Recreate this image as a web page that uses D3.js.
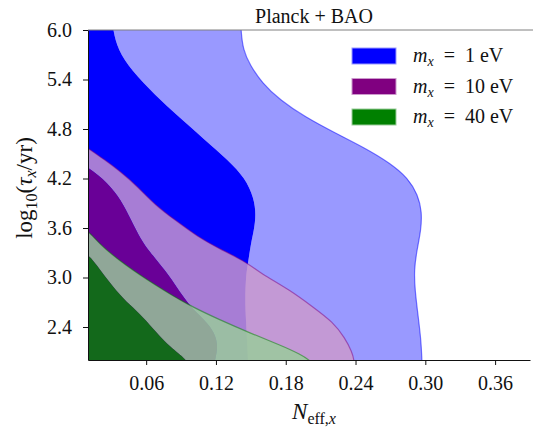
<!DOCTYPE html>
<html>
<head>
<meta charset="utf-8">
<script src="https://cdn.jsdelivr.net/npm/d3@7"></script>
<style>
  body { margin: 0; background: #fff; }
  text { font-family: "Liberation Serif", "Times New Roman", serif; fill: #111; }
</style>
</head>
<body>
<div id="chart"></div>
<script>
// tick values
const xTicks = [0.06, 0.12, 0.18, 0.24, 0.30, 0.36];
const yTicks = [2.4, 3.0, 3.6, 4.2, 4.8, 5.4, 6.0];

// legend masses (eV)
const masses = [1, 10, 40];

// contour edges, [N_eff,x , log10(tau/yr)]
// region is everything to the lower-left of the edge
const blue95 = [[0.1415, 6.10], [0.1415, 6.00], [0.1433, 5.758], [0.1493, 5.576], [0.1596, 5.358],
  [0.1751, 5.152], [0.1966, 4.945], [0.2223, 4.752], [0.2481, 4.570], [0.2696, 4.388],
  [0.2851, 4.206], [0.2937, 4.000], [0.2971, 3.794], [0.2963, 3.576], [0.2928, 3.333],
  [0.2903, 3.091], [0.2911, 2.848], [0.2937, 2.545], [0.2963, 2.242], [0.2971, 2.000],
  [0.2971, 1.94]];
const blue68 = [[0.0315, 6.10], [0.0315, 6.00], [0.0358, 5.758], [0.0470, 5.515], [0.0676, 5.212],
  [0.0891, 4.933], [0.1106, 4.667], [0.1304, 4.424], [0.1450, 4.206], [0.1527, 3.964],
  [0.1544, 3.758], [0.1527, 3.576], [0.1501, 3.418], [0.1476, 3.176], [0.1458, 3.030],
  [0.1450, 2.727], [0.1458, 2.485], [0.1467, 2.242], [0.1476, 2.000], [0.1476, 1.94]];
const purple95 = [[0.0, 4.65], [0.0100, 4.570], [0.0246, 4.424], [0.0384, 4.279], [0.0530, 4.097],
  [0.0676, 3.879], [0.0848, 3.697], [0.1046, 3.491], [0.1218, 3.358], [0.1476, 3.176],
  [0.1579, 3.055], [0.1837, 2.848], [0.2034, 2.642], [0.2206, 2.461], [0.2309, 2.267],
  [0.2370, 2.097], [0.2387, 2.000], [0.2387, 1.94]];
const purple68 = [[0.0, 4.40], [0.0100, 4.339], [0.0272, 4.145], [0.0384, 3.939], [0.0470, 3.697],
  [0.0556, 3.455], [0.0633, 3.309], [0.0702, 3.188], [0.0814, 2.994], [0.0960, 2.667],
  [0.1106, 2.485], [0.1192, 2.327], [0.1218, 2.158], [0.1192, 2.000], [0.1184, 1.94]];
const green95 = [[0.0, 3.62], [0.0100, 3.576], [0.0203, 3.394], [0.0418, 3.152], [0.0676, 2.909],
  [0.0960, 2.667], [0.1235, 2.485], [0.1493, 2.327], [0.1751, 2.182], [0.1923, 2.073],
  [0.2026, 1.976], [0.2030, 1.94]];
const green68 = [[0.0, 3.32], [0.0100, 3.297], [0.0203, 3.091], [0.0349, 2.824], [0.0461, 2.667],
  [0.0573, 2.521], [0.0693, 2.327], [0.0805, 2.158], [0.0951, 2.000], [0.0960, 1.94]];

const width = 534, height = 428;
const m = { left: 88, right: 530, top: 30, bottom: 360 };

const x = d3.scaleLinear().domain([0.01, 0.39]).range([m.left, m.right]);
const y = d3.scaleLinear().domain([2.0, 6.0]).range([m.bottom, m.top]);

const svg = d3.select('#chart').append('svg')
  .attr('width', width)
  .attr('height', height);

svg.append('clipPath').attr('id', 'plot')
  .append('rect')
  .attr('x', m.left).attr('y', m.top)
  .attr('width', m.right - m.left).attr('height', m.bottom - m.top);

const edge = d3.line()
  .x(d => x(d[0]))
  .y(d => y(d[1]))
  .curve(d3.curveBasis);

// close the edge round the lower-left corner
function region(pts) {
  return edge(pts) + `L${x(0)},${y(1.9)}L${x(0)},${y(6.1)}Z`;
}

const series = [
  { mass: masses[0], outer: blue95, inner: blue68, color: '#0000ff', light: '#9999ff', alpha: 1 },
  { mass: masses[1], outer: purple95, inner: purple68, color: '#800080', light: '#cc99cc', alpha: 0.82 },
  { mass: masses[2], outer: green95, inner: green68, color: '#008000', light: '#99cc99', alpha: 0.82 }
];

const g = svg.append('g').attr('clip-path', 'url(#plot)');

series.forEach(s => {
  // 95% band only (1σ region cut out)
  g.append('path')
    .attr('d', region(s.outer) + region(s.inner))
    .attr('fill-rule', 'evenodd')
    .attr('fill', s.light)
    .attr('fill-opacity', s.alpha);
  g.append('path')
    .attr('d', region(s.inner))
    .attr('fill', s.color)
    .attr('fill-opacity', s.alpha);
  g.append('path')
    .attr('d', edge(s.outer))
    .attr('fill', 'none')
    .attr('stroke', s.color)
    .attr('stroke-opacity', 0.5)
    .attr('stroke-width', 1.2);
});

// axes
const xAxis = svg.append('g')
  .attr('transform', `translate(0,${m.bottom})`)
  .call(d3.axisBottom(x).tickValues(xTicks).tickFormat(d3.format('.2f'))
    .tickSize(5).tickSizeOuter(0).tickPadding(11));
const yAxis = svg.append('g')
  .attr('transform', `translate(${m.left},0)`)
  .call(d3.axisLeft(y).tickValues(yTicks).tickFormat(d3.format('.1f'))
    .tickSize(5).tickSizeOuter(0).tickPadding(11));

[xAxis, yAxis].forEach(a => {
  a.selectAll('text').style('font-size', '20px').attr('fill', '#111');
  a.selectAll('line').attr('stroke', '#111');
  a.select('.domain').attr('stroke', '#111');
});

// top spine
svg.append('line')
  .attr('x1', m.left).attr('x2', m.right + 3)
  .attr('y1', m.top).attr('y2', m.top)
  .attr('stroke', '#808080');

// title
svg.append('text')
  .attr('x', 314).attr('y', 22.5)
  .attr('text-anchor', 'middle')
  .style('font-size', '20px')
  .text('Planck + BAO');

// x label
const xl = svg.append('text')
  .attr('x', 314).attr('y', 419)
  .attr('text-anchor', 'middle')
  .style('font-size', '23px');
xl.append('tspan').style('font-style', 'italic').text('N');
xl.append('tspan').attr('dy', 5).style('font-size', '16px').text('eff,');
xl.append('tspan').style('font-size', '16px').style('font-style', 'italic').text('x');

// y label
const yl = svg.append('text')
  .attr('transform', 'translate(32,188) rotate(-90)')
  .attr('text-anchor', 'middle')
  .style('font-size', '23px');
yl.append('tspan').text('log');
yl.append('tspan').attr('dy', 5).style('font-size', '16px').text('10');
yl.append('tspan').attr('dy', -5).text('(');
yl.append('tspan').style('font-style', 'italic').text('τ');
yl.append('tspan').attr('dy', 4).style('font-size', '16px').style('font-style', 'italic').text('x');
yl.append('tspan').attr('dy', -4).text('/yr)');

// legend
const leg = svg.append('g');
series.forEach((s, i) => {
  const cy = 56 + i * 30.5;
  leg.append('rect')
    .attr('x', 352).attr('y', cy - 8)
    .attr('width', 44).attr('height', 16)
    .attr('fill', s.color)
    .attr('stroke', s.light).attr('stroke-width', 1);
  const t = leg.append('text')
    .attr('x', 413).attr('y', cy + 6)
    .style('font-size', '20px');
  t.append('tspan').style('font-style', 'italic').text('m');
  t.append('tspan').attr('dy', 4).style('font-size', '14px').style('font-style', 'italic').text('x');
  t.append('tspan').attr('dy', -4).text(`\u2002=\u2002${s.mass} eV`);
});
</script>
</body>
</html>
